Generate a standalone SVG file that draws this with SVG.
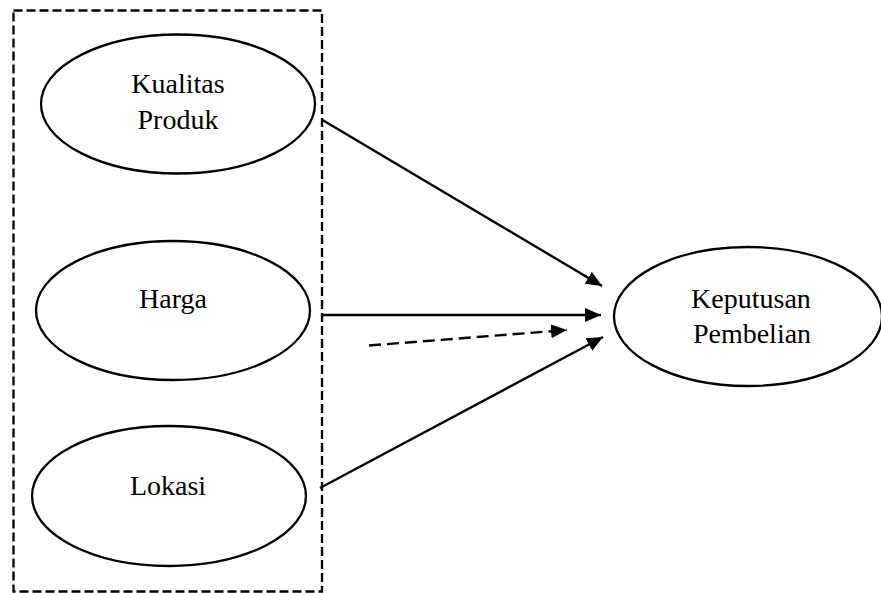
<svg xmlns="http://www.w3.org/2000/svg" width="881" height="593" viewBox="0 0 881 593">
<style>
.node ellipse{fill:#fff;stroke:#000;stroke-width:2.3}
.node text{font-family:"Liberation Serif","Times New Roman",serif;font-size:28px;fill:#000;text-anchor:middle}
.edge{stroke:#000;stroke-width:2.4;fill:none}
</style>
<defs>
<marker id="ah" markerUnits="userSpaceOnUse" markerWidth="17" markerHeight="15" refX="16" refY="7" orient="auto">
<path d="M0,0 L16,7 L0,14 Z" fill="#000"/>
</marker>
</defs>
<rect id="group-box" x="13.5" y="10.5" width="308.5" height="581" fill="none" stroke="#000" stroke-width="2.3" stroke-dasharray="9,4"/>
<g id="n-kualitas" class="node">
<ellipse cx="178" cy="104" rx="137" ry="69.5"/>
<text x="178" y="93">Kualitas</text>
<text x="178" y="129">Produk</text>
</g>
<g id="n-harga" class="node">
<ellipse cx="173" cy="310.5" rx="137" ry="69.5"/>
<text x="173" y="308">Harga</text>
</g>
<g id="n-lokasi" class="node">
<ellipse cx="169" cy="496" rx="137" ry="70"/>
<text x="168" y="495">Lokasi</text>
</g>
<g id="n-keputusan" class="node">
<ellipse cx="748" cy="316.5" rx="134" ry="69.5"/>
<text x="751" y="308">Keputusan</text>
<text x="752" y="343">Pembelian</text>
</g>
<g id="connectors">
<line class="edge" x1="322.5" y1="120" x2="602" y2="286" marker-end="url(#ah)"/>
<line class="edge" x1="321.5" y1="315" x2="601" y2="315" marker-end="url(#ah)"/>
<line class="edge" x1="320" y1="488" x2="603" y2="337" marker-end="url(#ah)"/>
<line class="edge" x1="369" y1="345.5" x2="567" y2="330" stroke-dasharray="12,6" marker-end="url(#ah)"/>
</g>
</svg>
